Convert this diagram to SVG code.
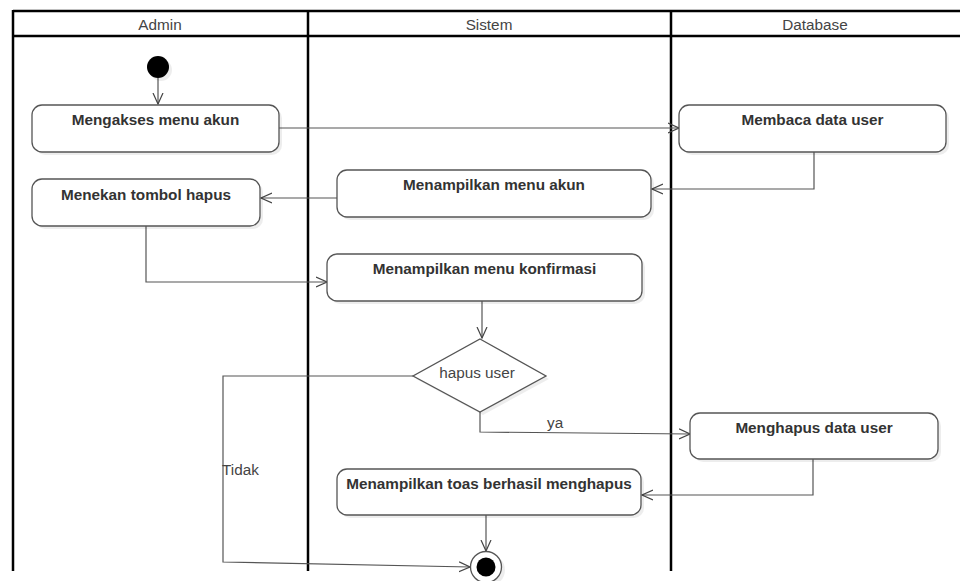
<svg xmlns="http://www.w3.org/2000/svg" width="960" height="581" viewBox="0 0 960 581">
<style>
.lane{stroke:#000;stroke-width:2.5;fill:none}
.hdr{font-family:"Liberation Sans",Arial,sans-serif;font-size:15.3px;fill:#444;text-anchor:middle}
.box{fill:#fff;stroke:#555;stroke-width:1.3}
.sh{fill:#000;opacity:0.07}
.lbl{font-family:"Liberation Sans",Arial,sans-serif;font-size:15.3px;font-weight:bold;fill:#333;text-anchor:middle}
.txt{font-family:"Liberation Sans",Arial,sans-serif;font-size:15.3px;fill:#444}
.con{fill:none;stroke:#555;stroke-width:1.2}
</style>
<defs>
<marker id="arr" viewBox="0 0 12 12" refX="11" refY="6" markerWidth="12" markerHeight="12" markerUnits="userSpaceOnUse" orient="auto">
<path d="M0,1 L11,6 L0,11" fill="none" stroke="#444" stroke-width="1.2"/>
</marker>
</defs>
<rect width="960" height="581" fill="#fff"/>
<g id="lanes">
<line class="lane" x1="13" y1="11" x2="960" y2="11"/>
<line class="lane" x1="13" y1="36" x2="960" y2="36"/>
<line class="lane" x1="13" y1="10" x2="13" y2="571"/>
<line class="lane" x1="308" y1="10" x2="308" y2="571"/>
<line class="lane" x1="671" y1="10" x2="671" y2="571"/>
<text class="hdr" x="160" y="30">Admin</text>
<text class="hdr" x="489" y="30">Sistem</text>
<text class="hdr" x="815" y="30">Database</text>
</g>
<g id="connectors">
<path class="con" d="M158,78 L158,104" marker-end="url(#arr)"/>
<path class="con" d="M279,128 L679,128" marker-end="url(#arr)"/>
<path class="con" d="M814,152 L814,189 L652,189" marker-end="url(#arr)"/>
<path class="con" d="M337,198 L261,198" marker-end="url(#arr)"/>
<path class="con" d="M146,226 L146,282 L327,282" marker-end="url(#arr)"/>
<path class="con" d="M482,301 L482,338" marker-end="url(#arr)"/>
<path class="con" d="M413,376 L223,376 L223,562 L470,567" marker-end="url(#arr)"/>
<path class="con" d="M480,412 L480,432 L690,434" marker-end="url(#arr)"/>
<path class="con" d="M813,459 L813,495 L642,495" marker-end="url(#arr)"/>
<path class="con" d="M486,515 L486,551" marker-end="url(#arr)"/>
<text class="txt" x="222" y="475">Tidak</text>
<text class="txt" x="547" y="428">ya</text>
</g>
<g id="start">
<circle cx="161" cy="70" r="11" fill="#000" opacity="0.07"/>
<circle cx="158" cy="67" r="11" fill="#000"/>
</g>
<g id="n1">
<rect class="sh" x="35" y="108" width="247" height="47" rx="10"/>
<rect class="box" x="32" y="105" width="247" height="47" rx="10"/>
<text class="lbl" x="155.5" y="125">Mengakses menu akun</text>
</g>
<g id="n2">
<rect class="sh" x="682" y="108" width="267" height="47" rx="10"/>
<rect class="box" x="679" y="105" width="267" height="47" rx="10"/>
<text class="lbl" x="812.5" y="125">Membaca data user</text>
</g>
<g id="n3">
<rect class="sh" x="340" y="173" width="314" height="47" rx="10"/>
<rect class="box" x="337" y="170" width="314" height="47" rx="10"/>
<text class="lbl" x="494" y="190">Menampilkan menu akun</text>
</g>
<g id="n4">
<rect class="sh" x="35" y="182" width="228" height="47" rx="10"/>
<rect class="box" x="32" y="179" width="228" height="47" rx="10"/>
<text class="lbl" x="146" y="200">Menekan tombol hapus</text>
</g>
<g id="n5">
<rect class="sh" x="330" y="257" width="315" height="47" rx="10"/>
<rect class="box" x="327" y="254" width="315" height="47" rx="10"/>
<text class="lbl" x="484.5" y="274">Menampilkan menu konfirmasi</text>
</g>
<g id="decision">
<polygon points="483,342 549,379 483,415 416,379" fill="#000" opacity="0.07"/>
<polygon points="480,339 546,376 480,412 413,376" fill="#fff" stroke="#555" stroke-width="1.3"/>
<text class="txt" x="477" y="378" text-anchor="middle">hapus user</text>
</g>
<g id="n6">
<rect class="sh" x="693" y="416" width="248" height="46" rx="10"/>
<rect class="box" x="690" y="413" width="248" height="46" rx="10"/>
<text class="lbl" x="814" y="433">Menghapus data user</text>
</g>
<g id="n7">
<rect class="sh" x="340" y="472" width="304" height="46" rx="10"/>
<rect class="box" x="337" y="469" width="304" height="46" rx="10"/>
<text class="lbl" x="489" y="489">Menampilkan toas berhasil menghapus</text>
</g>
<g id="end">
<circle cx="489" cy="570" r="16" fill="#000" opacity="0.07"/>
<circle cx="486" cy="567" r="15.5" fill="#fff" stroke="#555" stroke-width="1.3"/>
<circle cx="486" cy="567" r="9.5" fill="#000"/>
</g>
</svg>
